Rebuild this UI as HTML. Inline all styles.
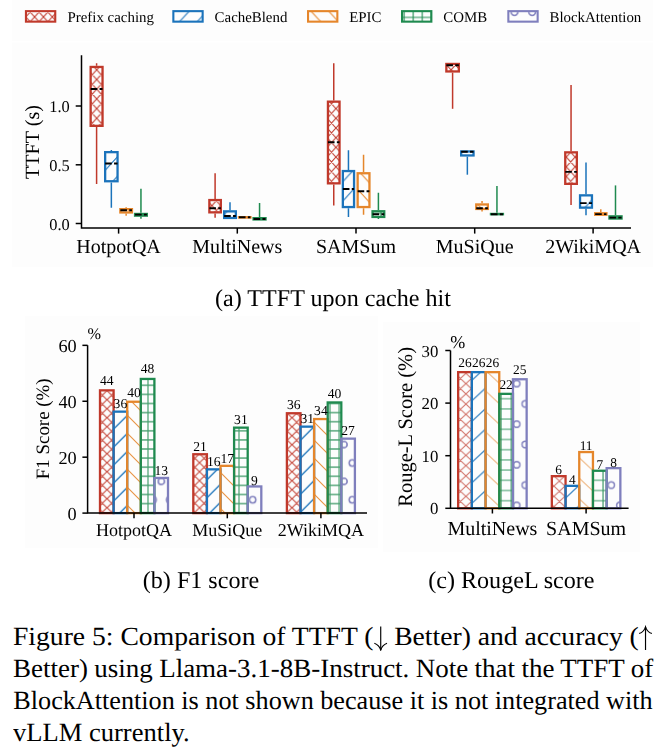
<!DOCTYPE html>
<html><head><meta charset="utf-8"><style>
html,body{margin:0;padding:0;background:#fff;width:663px;height:750px;overflow:hidden;text-rendering:geometricPrecision;-webkit-font-smoothing:antialiased}
#fig{position:absolute;left:0;top:0;display:block;will-change:transform}
.l{position:absolute;left:13.3px;white-space:nowrap;transform-origin:0 0;font-family:"Liberation Serif",serif;font-size:26.2px;line-height:31.8px;height:31.8px;color:#000}
</style></head><body>
<svg id="fig" width="663" height="610" viewBox="0 0 663 610" font-family="Liberation Serif, serif" fill="#000"><defs><pattern id="p1" patternUnits="userSpaceOnUse" x="34.6" y="16.9" width="8.86" height="9.7"><path d="M-8.86,9.7L17.72,-19.4M-8.86,19.4L17.72,-9.7M-8.86,29.099999999999998L17.72,0.0M-8.86,0.0L17.72,29.099999999999998M-8.86,-9.7L17.72,19.4M-8.86,-19.4L17.72,9.7" stroke="#c0392b" stroke-width="1.1" stroke-opacity="1.0" fill="none"/></pattern><pattern id="p2" patternUnits="userSpaceOnUse" x="4.43" y="0" width="17.72" height="19.4"><path d="M-17.72,19.4L35.44,-38.8M-17.72,38.8L35.44,-19.4M-17.72,58.199999999999996L35.44,0.0" stroke="#1b73bb" stroke-width="1.1" stroke-opacity="1.0" fill="none"/></pattern><pattern id="p3" patternUnits="userSpaceOnUse" x="17.37" y="0" width="17.72" height="19.4"><path d="M-17.72,0.0L35.44,58.199999999999996M-17.72,-19.4L35.44,38.8M-17.72,-38.8L35.44,19.4" stroke="#e5862b" stroke-width="1.1" stroke-opacity="1.0" fill="none"/></pattern><pattern id="p4" patternUnits="userSpaceOnUse" x="404.2" y="17.4" width="9.05" height="9.7"><path d="M-1,0H10.05M0,-1V10.7M-1,9.7H10.05M9.05,-1V10.7" stroke="#1f8a4f" stroke-width="1.1" stroke-opacity="1.0" fill="none"/></pattern><pattern id="p5" patternUnits="userSpaceOnUse" x="514.5" y="12" width="17.72" height="35.44"><g stroke="#7f7fbd" stroke-width="1.1" stroke-opacity="1.0" fill="none"><circle cx="0" cy="0" r="3.544"/><circle cx="0" cy="0" r="3.1896"/><circle cx="17.72" cy="0" r="3.544"/><circle cx="17.72" cy="0" r="3.1896"/><circle cx="0" cy="35.44" r="3.544"/><circle cx="0" cy="35.44" r="3.1896"/><circle cx="17.72" cy="35.44" r="3.544"/><circle cx="17.72" cy="35.44" r="3.1896"/><circle cx="8.86" cy="17.72" r="3.544"/><circle cx="8.86" cy="17.72" r="3.1896"/></g></pattern><pattern id="p6" patternUnits="userSpaceOnUse" x="96.7" y="89.2" width="8.86" height="9.7"><path d="M-8.86,9.7L17.72,-19.4M-8.86,19.4L17.72,-9.7M-8.86,29.099999999999998L17.72,0.0M-8.86,0.0L17.72,29.099999999999998M-8.86,-9.7L17.72,19.4M-8.86,-19.4L17.72,9.7" stroke="#c0392b" stroke-width="1.1" stroke-opacity="1.0" fill="none"/></pattern><pattern id="p7" patternUnits="userSpaceOnUse" x="12.63" y="0" width="17.72" height="19.4"><path d="M-17.72,19.4L35.44,-38.8M-17.72,38.8L35.44,-19.4M-17.72,58.199999999999996L35.44,0.0" stroke="#1b73bb" stroke-width="1.1" stroke-opacity="1.0" fill="none"/></pattern><pattern id="p8" patternUnits="userSpaceOnUse" x="7.48" y="0" width="17.72" height="19.4"><path d="M-17.72,0.0L35.44,58.199999999999996M-17.72,-19.4L35.44,38.8M-17.72,-38.8L35.44,19.4" stroke="#e5862b" stroke-width="1.1" stroke-opacity="1.0" fill="none"/></pattern><pattern id="p9" patternUnits="userSpaceOnUse" x="0" y="0" width="8.86" height="9.7"><path d="M-1,0H9.86M0,-1V10.7M-1,9.7H9.86M8.86,-1V10.7" stroke="#1f8a4f" stroke-width="1.1" stroke-opacity="1.0" fill="none"/></pattern><pattern id="p10" patternUnits="userSpaceOnUse" x="107" y="435.7" width="9.25" height="9.0"><path d="M-9.25,9.0L18.5,-18.0M-9.25,18.0L18.5,-9.0M-9.25,27.0L18.5,0.0M-9.25,0.0L18.5,27.0M-9.25,-9.0L18.5,18.0M-9.25,-18.0L18.5,9.0" stroke="#c0392b" stroke-width="1.15" stroke-opacity="0.88" fill="none"/></pattern><pattern id="p11" patternUnits="userSpaceOnUse" x="2.7" y="0" width="18.0" height="18.0"><path d="M-18.0,18.0L36.0,-36.0M-18.0,36.0L36.0,-18.0M-18.0,54.0L36.0,0.0" stroke="#1b73bb" stroke-width="1.3" stroke-opacity="1.0" fill="none"/></pattern><pattern id="p12" patternUnits="userSpaceOnUse" x="0" y="0" width="18.0" height="18.0"><path d="M-18.0,0.0L36.0,54.0M-18.0,-18.0L36.0,36.0M-18.0,-36.0L36.0,18.0" stroke="#e5862b" stroke-width="1.15" stroke-opacity="0.88" fill="none"/></pattern><pattern id="p13" patternUnits="userSpaceOnUse" x="148" y="449" width="9.1" height="9.1"><path d="M-1,0H10.1M0,-1V10.1M-1,9.1H10.1M9.1,-1V10.1" stroke="#1f8a4f" stroke-width="1.15" stroke-opacity="0.82" fill="none"/></pattern><pattern id="p14" patternUnits="userSpaceOnUse" x="344" y="444.6" width="16.6" height="36.8"><g stroke="#7f7fbd" stroke-width="1.2" stroke-opacity="0.9" fill="none"><circle cx="0" cy="0" r="3.3200000000000003"/><circle cx="0" cy="0" r="2.9880000000000004"/><circle cx="16.6" cy="0" r="3.3200000000000003"/><circle cx="16.6" cy="0" r="2.9880000000000004"/><circle cx="0" cy="36.8" r="3.3200000000000003"/><circle cx="0" cy="36.8" r="2.9880000000000004"/><circle cx="16.6" cy="36.8" r="3.3200000000000003"/><circle cx="16.6" cy="36.8" r="2.9880000000000004"/><circle cx="8.3" cy="18.4" r="3.3200000000000003"/><circle cx="8.3" cy="18.4" r="2.9880000000000004"/></g></pattern><pattern id="p15" patternUnits="userSpaceOnUse" x="465.9" y="404.1" width="11.0" height="10.25"><path d="M-11.0,10.25L22.0,-20.5M-11.0,20.5L22.0,-10.25M-11.0,30.75L22.0,0.0M-11.0,0.0L22.0,30.75M-11.0,-10.25L22.0,20.5M-11.0,-20.5L22.0,10.25" stroke="#c0392b" stroke-width="1.1" stroke-opacity="0.7" fill="none"/></pattern><pattern id="p16" patternUnits="userSpaceOnUse" x="0" y="0" width="22" height="20.5"><path d="M-22,20.5L44,-41.0M-22,41.0L44,-20.5M-22,61.5L44,0.0" stroke="#1b73bb" stroke-width="1.3" stroke-opacity="0.8" fill="none"/></pattern><pattern id="p17" patternUnits="userSpaceOnUse" x="0" y="0" width="22" height="20.5"><path d="M-22,0.0L44,61.5M-22,-20.5L44,41.0M-22,-41.0L44,20.5" stroke="#e5862b" stroke-width="1.1" stroke-opacity="0.6" fill="none"/></pattern><pattern id="p18" patternUnits="userSpaceOnUse" x="501.1" y="398.7" width="10.2" height="10.2"><path d="M-1,0H11.2M0,-1V11.2M-1,10.2H11.2M10.2,-1V11.2" stroke="#1f8a4f" stroke-width="1.1" stroke-opacity="0.95" fill="none"/></pattern><pattern id="p19" patternUnits="userSpaceOnUse" x="516.7" y="424.2" width="17.2" height="40.6"><g stroke="#7f7fbd" stroke-width="1.2" stroke-opacity="0.85" fill="none"><circle cx="0" cy="0" r="3.44"/><circle cx="0" cy="0" r="3.096"/><circle cx="17.2" cy="0" r="3.44"/><circle cx="17.2" cy="0" r="3.096"/><circle cx="0" cy="40.6" r="3.44"/><circle cx="0" cy="40.6" r="3.096"/><circle cx="17.2" cy="40.6" r="3.44"/><circle cx="17.2" cy="40.6" r="3.096"/><circle cx="8.6" cy="20.3" r="3.44"/><circle cx="8.6" cy="20.3" r="3.096"/></g></pattern></defs><rect x="12" y="0" width="641" height="41" fill="#fdfdfd"/>
<rect x="12" y="42.5" width="641" height="224.5" fill="#fdfdfd"/>
<rect x="25" y="316" width="353" height="232" fill="#fdfdfd"/>
<rect x="383" y="322" width="257" height="230" fill="#fdfdfd"/>
<rect x="25.95" y="11.15" width="29.299999999999997" height="10.5" fill="url(#p1)" stroke="#c0392b" stroke-width="2.1"/>
<text x="67.5" y="21.9" font-size="14.9" text-anchor="start" >Prefix caching</text>
<rect x="173.35000000000002" y="11.15" width="29.299999999999997" height="10.5" fill="url(#p2)" stroke="#1b73bb" stroke-width="2.1"/>
<text x="214.6" y="21.9" font-size="14.9" text-anchor="start" >CacheBlend</text>
<rect x="308.05" y="11.15" width="29.299999999999997" height="10.5" fill="url(#p3)" stroke="#e5862b" stroke-width="2.1"/>
<text x="349.2" y="21.9" font-size="14.9" text-anchor="start" >EPIC</text>
<rect x="402.05" y="11.15" width="29.299999999999997" height="10.5" fill="url(#p4)" stroke="#1f8a4f" stroke-width="2.1"/>
<text x="443.3" y="21.9" font-size="14.9" text-anchor="start" >COMB</text>
<rect x="508.35" y="11.15" width="29.299999999999997" height="10.5" fill="url(#p5)" stroke="#7f7fbd" stroke-width="2.1"/>
<text x="549.5" y="21.9" font-size="14.9" text-anchor="start" >BlockAttention</text>
<path d="M81.5,55.3V228H631" stroke="#000" stroke-width="1.5" fill="none"/>
<path d="M75.7,223.5H81.5" stroke="#000" stroke-width="1.5"/>
<text x="69.7" y="229.5" font-size="16.4" text-anchor="end" >0.0</text>
<path d="M75.7,164.8H81.5" stroke="#000" stroke-width="1.5"/>
<text x="69.7" y="170.8" font-size="16.4" text-anchor="end" >0.5</text>
<path d="M75.7,106.0H81.5" stroke="#000" stroke-width="1.5"/>
<text x="69.7" y="112.0" font-size="16.4" text-anchor="end" >1.0</text>
<path d="M118.6,228V233.6" stroke="#000" stroke-width="1.5"/>
<text x="118.6" y="253.0" font-size="20.0" text-anchor="middle" >HotpotQA</text>
<path d="M237.3,228V233.6" stroke="#000" stroke-width="1.5"/>
<text x="237.3" y="253.0" font-size="20.0" text-anchor="middle" >MultiNews</text>
<path d="M356.0,228V233.6" stroke="#000" stroke-width="1.5"/>
<text x="356.0" y="253.0" font-size="20.0" text-anchor="middle" >SAMSum</text>
<path d="M474.7,228V233.6" stroke="#000" stroke-width="1.5"/>
<text x="474.7" y="253.0" font-size="20.0" text-anchor="middle" >MuSiQue</text>
<path d="M593.1,228V233.6" stroke="#000" stroke-width="1.5"/>
<text x="593.1" y="253.0" font-size="20.0" text-anchor="middle" >2WikiMQA</text>
<text x="38.8" y="142" font-size="20.2" text-anchor="middle" transform="rotate(-90 38.8 142)">TTFT (s)</text>
<path d="M96.6,65.8V63.3M96.6,127V184" stroke="#c0392b" stroke-width="1.5"/>
<rect x="90.65" y="66.95" width="11.900000000000002" height="58.900000000000006" fill="url(#p6)" stroke="#c0392b" stroke-width="2.3"/>
<path d="M90.65,89H102.55" stroke="#000" stroke-width="1.9" stroke-dasharray="6.6 2.3"/>
<path d="M111.35,151.0V150M111.35,182.4V207.7" stroke="#1b73bb" stroke-width="1.5"/>
<rect x="105.15" y="152.15" width="12.400000000000002" height="29.100000000000005" fill="url(#p7)" stroke="#1b73bb" stroke-width="2.3"/>
<path d="M105.15,163.5H117.55" stroke="#000" stroke-width="1.9" stroke-dasharray="6.6 2.3"/>
<path d="M126.15,208V207.3M126.15,213.6V215.7" stroke="#e5862b" stroke-width="1.5"/>
<rect x="120.35000000000001" y="209.15" width="11.59999999999999" height="3.2999999999999945" fill="url(#p8)" stroke="#e5862b" stroke-width="2.3"/>
<path d="M120.35000000000001,210.2H131.95" stroke="#000" stroke-width="1.9" stroke-dasharray="6.6 2.3"/>
<path d="M140.95,212.8V188.8M140.95,216.8V218.8" stroke="#1f8a4f" stroke-width="1.5"/>
<rect x="135.05" y="213.95000000000002" width="11.799999999999994" height="1.7000000000000002" fill="url(#p9)" stroke="#1f8a4f" stroke-width="2.3"/>
<path d="M135.05,214.6H146.85" stroke="#000" stroke-width="1.9" stroke-dasharray="6.6 2.3"/>
<path d="M215.1,198.9V173.3M215.1,213.5V217.8" stroke="#c0392b" stroke-width="1.5"/>
<rect x="209.35" y="200.05" width="11.50000000000001" height="12.299999999999994" fill="url(#p6)" stroke="#c0392b" stroke-width="2.3"/>
<path d="M209.35,208.3H220.85" stroke="#000" stroke-width="1.9" stroke-dasharray="6.6 2.3"/>
<path d="M230.0,210.2V202.2M230.0,219.1V219.1" stroke="#1b73bb" stroke-width="1.5"/>
<rect x="224.15" y="211.35" width="11.7" height="6.600000000000006" fill="url(#p7)" stroke="#1b73bb" stroke-width="2.3"/>
<path d="M224.15,216H235.85" stroke="#000" stroke-width="1.9" stroke-dasharray="6.6 2.3"/>
<path d="M244.7,216V216M244.7,218.7V218.7" stroke="#e5862b" stroke-width="1.5"/>
<rect x="238.95000000000002" y="217.15" width="11.499999999999982" height="0.3999999999999888" fill="url(#p8)" stroke="#e5862b" stroke-width="2.3"/>
<path d="M238.95000000000002,217.3H250.45" stroke="#000" stroke-width="1.9" stroke-dasharray="6.6 2.3"/>
<path d="M259.55,217V203M259.55,220.6V220.6" stroke="#1f8a4f" stroke-width="1.5"/>
<rect x="253.55" y="218.15" width="11.999999999999982" height="1.2999999999999945" fill="url(#p9)" stroke="#1f8a4f" stroke-width="2.3"/>
<path d="M253.55,219H265.55" stroke="#000" stroke-width="1.9" stroke-dasharray="6.6 2.3"/>
<path d="M333.75,100.5V63.3M333.75,184.5V205.6" stroke="#c0392b" stroke-width="1.5"/>
<rect x="327.95" y="101.65" width="11.599999999999977" height="81.7" fill="url(#p6)" stroke="#c0392b" stroke-width="2.3"/>
<path d="M327.95,142.2H339.55" stroke="#000" stroke-width="1.9" stroke-dasharray="6.6 2.3"/>
<path d="M348.45,169.9V150.3M348.45,208.2V217" stroke="#1b73bb" stroke-width="1.5"/>
<rect x="342.84999999999997" y="171.05" width="11.2" height="35.999999999999986" fill="url(#p7)" stroke="#1b73bb" stroke-width="2.3"/>
<path d="M342.84999999999997,189H354.05" stroke="#000" stroke-width="1.9" stroke-dasharray="6.6 2.3"/>
<path d="M363.55,172.1V154.8M363.55,208.2V214.7" stroke="#e5862b" stroke-width="1.5"/>
<rect x="357.65" y="173.25" width="11.800000000000022" height="33.8" fill="url(#p8)" stroke="#e5862b" stroke-width="2.3"/>
<path d="M357.65,191.3H369.45000000000005" stroke="#000" stroke-width="1.9" stroke-dasharray="6.6 2.3"/>
<path d="M378.4,210.1V192.8M378.4,218.1V219" stroke="#1f8a4f" stroke-width="1.5"/>
<rect x="372.54999999999995" y="211.25" width="11.7" height="5.7" fill="url(#p9)" stroke="#1f8a4f" stroke-width="2.3"/>
<path d="M372.54999999999995,214.2H384.25" stroke="#000" stroke-width="1.9" stroke-dasharray="6.6 2.3"/>
<path d="M452.6,62.8V62.8M452.6,72.6V108.8" stroke="#c0392b" stroke-width="1.5"/>
<rect x="446.34999999999997" y="63.949999999999996" width="12.50000000000001" height="7.499999999999997" fill="url(#p6)" stroke="#c0392b" stroke-width="2.3"/>
<path d="M446.34999999999997,65.2H458.85" stroke="#000" stroke-width="1.9" stroke-dasharray="6.6 2.3"/>
<path d="M467.35,150.3V150.3M467.35,156.6V174.7" stroke="#1b73bb" stroke-width="1.5"/>
<rect x="461.15" y="151.45000000000002" width="12.399999999999988" height="3.999999999999983" fill="url(#p7)" stroke="#1b73bb" stroke-width="2.3"/>
<path d="M461.15,151.8H473.55" stroke="#000" stroke-width="1.9" stroke-dasharray="6.6 2.3"/>
<path d="M482.05,203.3V201M482.05,210.1V211.6" stroke="#e5862b" stroke-width="1.5"/>
<rect x="476.25" y="204.45000000000002" width="11.599999999999977" height="4.499999999999983" fill="url(#p8)" stroke="#e5862b" stroke-width="2.3"/>
<path d="M476.25,208.2H487.85" stroke="#000" stroke-width="1.9" stroke-dasharray="6.6 2.3"/>
<path d="M496.95000000000005,212.8V186M496.95000000000005,215.4V215.4" stroke="#1f8a4f" stroke-width="1.5"/>
<rect x="490.95" y="213.95000000000002" width="12.00000000000001" height="0.2999999999999945" fill="url(#p9)" stroke="#1f8a4f" stroke-width="2.3"/>
<path d="M490.95,214.2H502.95000000000005" stroke="#000" stroke-width="1.9" stroke-dasharray="6.6 2.3"/>
<path d="M571.05,151.2V85.1M571.05,185V205" stroke="#c0392b" stroke-width="1.5"/>
<rect x="565.25" y="152.35" width="11.599999999999977" height="31.50000000000001" fill="url(#p6)" stroke="#c0392b" stroke-width="2.3"/>
<path d="M565.25,171.9H576.85" stroke="#000" stroke-width="1.9" stroke-dasharray="6.6 2.3"/>
<path d="M586.0,194.2V162.4M586.0,208.8V215.2" stroke="#1b73bb" stroke-width="1.5"/>
<rect x="580.05" y="195.35" width="11.900000000000045" height="12.300000000000022" fill="url(#p7)" stroke="#1b73bb" stroke-width="2.3"/>
<path d="M580.05,203.1H591.95" stroke="#000" stroke-width="1.9" stroke-dasharray="6.6 2.3"/>
<path d="M600.8,212.1V209.3M600.8,215.9V215.9" stroke="#e5862b" stroke-width="1.5"/>
<rect x="595.15" y="213.25" width="11.300000000000022" height="1.5000000000000115" fill="url(#p8)" stroke="#e5862b" stroke-width="2.3"/>
<path d="M595.15,214.1H606.45" stroke="#000" stroke-width="1.9" stroke-dasharray="6.6 2.3"/>
<path d="M615.5,215.2V185.4M615.5,219.7V219.7" stroke="#1f8a4f" stroke-width="1.5"/>
<rect x="609.4499999999999" y="216.35" width="12.10000000000009" height="2.2" fill="url(#p9)" stroke="#1f8a4f" stroke-width="2.3"/>
<path d="M609.4499999999999,217.6H621.5500000000001" stroke="#000" stroke-width="1.9" stroke-dasharray="6.6 2.3"/>
<rect x="100.00" y="390.35" width="13.6" height="122.75" fill="url(#p10)" stroke="#c0392b" stroke-width="2.3"/>
<rect x="113.60" y="411.65" width="13.6" height="101.45" fill="url(#p11)" stroke="#1b73bb" stroke-width="2.3"/>
<rect x="127.20" y="401.75" width="13.6" height="111.35" fill="url(#p12)" stroke="#e5862b" stroke-width="2.3"/>
<rect x="140.80" y="378.95" width="13.6" height="134.15" fill="url(#p13)" stroke="#1f8a4f" stroke-width="2.3"/>
<rect x="154.40" y="477.95" width="13.6" height="35.15" fill="url(#p14)" stroke="#7f7fbd" stroke-width="2.3"/>
<text x="106.80" y="385" font-size="13.6" text-anchor="middle" >44</text>
<text x="120.40" y="407.6" font-size="13.6" text-anchor="middle" >36</text>
<text x="134.00" y="396.7" font-size="13.6" text-anchor="middle" >40</text>
<text x="147.60" y="372.6" font-size="13.6" text-anchor="middle" >48</text>
<text x="161.20" y="475.4" font-size="13.6" text-anchor="middle" >13</text>
<rect x="193.30" y="454.25" width="13.6" height="58.85" fill="url(#p10)" stroke="#c0392b" stroke-width="2.3"/>
<rect x="206.90" y="469.35" width="13.6" height="43.75" fill="url(#p11)" stroke="#1b73bb" stroke-width="2.3"/>
<rect x="220.50" y="465.85" width="13.6" height="47.25" fill="url(#p12)" stroke="#e5862b" stroke-width="2.3"/>
<rect x="234.10" y="427.65" width="13.6" height="85.45" fill="url(#p13)" stroke="#1f8a4f" stroke-width="2.3"/>
<rect x="247.70" y="486.45" width="13.6" height="26.65" fill="url(#p14)" stroke="#7f7fbd" stroke-width="2.3"/>
<text x="200.10" y="450.7" font-size="13.6" text-anchor="middle" >21</text>
<text x="213.70" y="466.4" font-size="13.6" text-anchor="middle" >16</text>
<text x="227.30" y="463.4" font-size="13.6" text-anchor="middle" >17</text>
<text x="240.90" y="423.8" font-size="13.6" text-anchor="middle" >31</text>
<text x="254.50" y="485.3" font-size="13.6" text-anchor="middle" >9</text>
<rect x="286.90" y="413.25" width="13.6" height="99.85" fill="url(#p10)" stroke="#c0392b" stroke-width="2.3"/>
<rect x="300.50" y="426.65" width="13.6" height="86.45" fill="url(#p11)" stroke="#1b73bb" stroke-width="2.3"/>
<rect x="314.10" y="419.05" width="13.6" height="94.05" fill="url(#p12)" stroke="#e5862b" stroke-width="2.3"/>
<rect x="327.70" y="402.45" width="13.6" height="110.65" fill="url(#p13)" stroke="#1f8a4f" stroke-width="2.3"/>
<rect x="341.30" y="438.65" width="13.6" height="74.45" fill="url(#p14)" stroke="#7f7fbd" stroke-width="2.3"/>
<text x="293.70" y="408.9" font-size="13.6" text-anchor="middle" >36</text>
<text x="307.30" y="423.0" font-size="13.6" text-anchor="middle" >31</text>
<text x="320.90" y="414.9" font-size="13.6" text-anchor="middle" >34</text>
<text x="334.50" y="397.7" font-size="13.6" text-anchor="middle" >40</text>
<text x="348.10" y="435.3" font-size="13.6" text-anchor="middle" >27</text>
<path d="M87.6,345.3V513.1H367" stroke="#000" stroke-width="1.5" fill="none"/>
<path d="M82.39999999999999,513.10H87.6" stroke="#000" stroke-width="1.5"/>
<text x="76.7" y="519.69" font-size="18.3" text-anchor="end" >0</text>
<path d="M82.39999999999999,457.18H87.6" stroke="#000" stroke-width="1.5"/>
<text x="76.7" y="463.77" font-size="18.3" text-anchor="end" >20</text>
<path d="M82.39999999999999,401.26H87.6" stroke="#000" stroke-width="1.5"/>
<text x="76.7" y="407.85" font-size="18.3" text-anchor="end" >40</text>
<path d="M82.39999999999999,345.34H87.6" stroke="#000" stroke-width="1.5"/>
<text x="76.7" y="351.93" font-size="18.3" text-anchor="end" >60</text>
<text x="87.4" y="339.3" font-size="16.2" text-anchor="start" >%</text>
<path d="M134.0,513.1V518.3000000000001" stroke="#000" stroke-width="1.5"/>
<text x="134.0" y="536" font-size="18.0" text-anchor="middle" >HotpotQA</text>
<path d="M227.3,513.1V518.3000000000001" stroke="#000" stroke-width="1.5"/>
<text x="227.3" y="536" font-size="18.0" text-anchor="middle" >MuSiQue</text>
<path d="M320.9,513.1V518.3000000000001" stroke="#000" stroke-width="1.5"/>
<text x="320.9" y="536" font-size="18.0" text-anchor="middle" >2WikiMQA</text>
<text x="49.5" y="428.8" font-size="18.9" text-anchor="middle" transform="rotate(-90 49.5 428.8)">F1 Score (%)</text>
<rect x="458.15" y="372.15" width="13.7" height="136.15" fill="url(#p15)" stroke="#c0392b" stroke-width="2.3"/>
<rect x="471.85" y="372.15" width="13.7" height="136.15" fill="url(#p16)" stroke="#1b73bb" stroke-width="2.3"/>
<rect x="485.55" y="372.15" width="13.7" height="136.15" fill="url(#p17)" stroke="#e5862b" stroke-width="2.3"/>
<rect x="499.25" y="393.85" width="13.7" height="114.45" fill="url(#p18)" stroke="#1f8a4f" stroke-width="2.3"/>
<rect x="512.95" y="379.25" width="13.7" height="129.05" fill="url(#p19)" stroke="#7f7fbd" stroke-width="2.3"/>
<text x="465.00" y="367" font-size="13.4" text-anchor="middle" >26</text>
<text x="478.70" y="367" font-size="13.4" text-anchor="middle" >26</text>
<text x="492.40" y="367" font-size="13.4" text-anchor="middle" >26</text>
<text x="506.10" y="389" font-size="13.4" text-anchor="middle" >22</text>
<text x="519.80" y="374.1" font-size="13.4" text-anchor="middle" >25</text>
<rect x="551.85" y="476.15" width="13.7" height="32.15" fill="url(#p15)" stroke="#c0392b" stroke-width="2.3"/>
<rect x="565.55" y="485.85" width="13.7" height="22.45" fill="url(#p16)" stroke="#1b73bb" stroke-width="2.3"/>
<rect x="579.25" y="452.05" width="13.7" height="56.25" fill="url(#p17)" stroke="#e5862b" stroke-width="2.3"/>
<rect x="592.95" y="470.75" width="13.7" height="37.55" fill="url(#p18)" stroke="#1f8a4f" stroke-width="2.3"/>
<rect x="606.65" y="468.15" width="13.7" height="40.15" fill="url(#p19)" stroke="#7f7fbd" stroke-width="2.3"/>
<text x="558.70" y="474.4" font-size="13.4" text-anchor="middle" >6</text>
<text x="572.40" y="484.2" font-size="13.4" text-anchor="middle" >4</text>
<text x="586.10" y="449.8" font-size="13.4" text-anchor="middle" >11</text>
<text x="599.80" y="468.7" font-size="13.4" text-anchor="middle" >7</text>
<text x="613.50" y="466.7" font-size="13.4" text-anchor="middle" >8</text>
<path d="M450.5,350.5V508.3H628.6" stroke="#000" stroke-width="1.5" fill="none"/>
<path d="M445.3,508.30H450.5" stroke="#000" stroke-width="1.5"/>
<text x="438.4" y="514.35" font-size="16.8" text-anchor="end" >0</text>
<path d="M445.3,455.70H450.5" stroke="#000" stroke-width="1.5"/>
<text x="438.4" y="461.75" font-size="16.8" text-anchor="end" >10</text>
<path d="M445.3,403.10H450.5" stroke="#000" stroke-width="1.5"/>
<text x="438.4" y="409.15" font-size="16.8" text-anchor="end" >20</text>
<path d="M445.3,350.50H450.5" stroke="#000" stroke-width="1.5"/>
<text x="438.4" y="356.55" font-size="16.8" text-anchor="end" >30</text>
<text x="450.2" y="347.6" font-size="18.0" text-anchor="start" >%</text>
<path d="M492.4,508.3V513.5" stroke="#000" stroke-width="1.5"/>
<text x="492.4" y="534.9" font-size="20.0" text-anchor="middle" >MultiNews</text>
<path d="M586.1,508.3V513.5" stroke="#000" stroke-width="1.5"/>
<text x="586.1" y="534.9" font-size="20.0" text-anchor="middle" >SAMSum</text>
<text x="411.6" y="426.9" font-size="20.5" text-anchor="middle" transform="rotate(-90 411.6 426.9)">Rouge-L Score (%)</text>
<text x="333.0" y="305.8" font-size="24.1" text-anchor="middle" >(a) TTFT upon cache hit</text>
<text x="201.0" y="587.6" font-size="24.1" text-anchor="middle" >(b) F1 score</text>
<text x="511.4" y="587.6" font-size="24.1" text-anchor="middle" >(c) RougeL score</text></svg>
<div class="l" style="top:621.40px;transform:scaleX(1.055);word-spacing:0px">Figure 5: Comparison of TTFT (<svg width="13.1" height="27" viewBox="0 0 13.1 27" style="vertical-align:-6px;display:inline-block"><path d="M6.55,2.5V26" stroke="#000" stroke-width="1.1" fill="none"/><path d="M0.5,19.2C3.5,20.3 5.6,22.5 6.55,26C7.5,22.5 9.6,20.3 12.6,19.2" stroke="#000" stroke-width="1.1" fill="none"/></svg> Better) and accuracy (<svg width="13.1" height="27" viewBox="0 0 13.1 27" style="vertical-align:-6px;display:inline-block"><path d="M6.55,2.8V26" stroke="#000" stroke-width="1.1" fill="none"/><path d="M0.5,9.6C3.5,8.5 5.6,6.3 6.55,2.8C7.5,6.3 9.6,8.5 12.6,9.6" stroke="#000" stroke-width="1.1" fill="none"/></svg></div><div class="l" style="top:653.30px;transform:scaleX(1.03);word-spacing:-0.32px">Better) using Llama-3.1-8B-Instruct. Note that the TTFT of</div><div class="l" style="top:685.20px;transform:scaleX(1.0);word-spacing:0px">BlockAttention is not shown because it is not integrated with</div><div class="l" style="top:717.10px;transform:scaleX(1.014);word-spacing:0px">vLLM currently.</div>
</body></html>
